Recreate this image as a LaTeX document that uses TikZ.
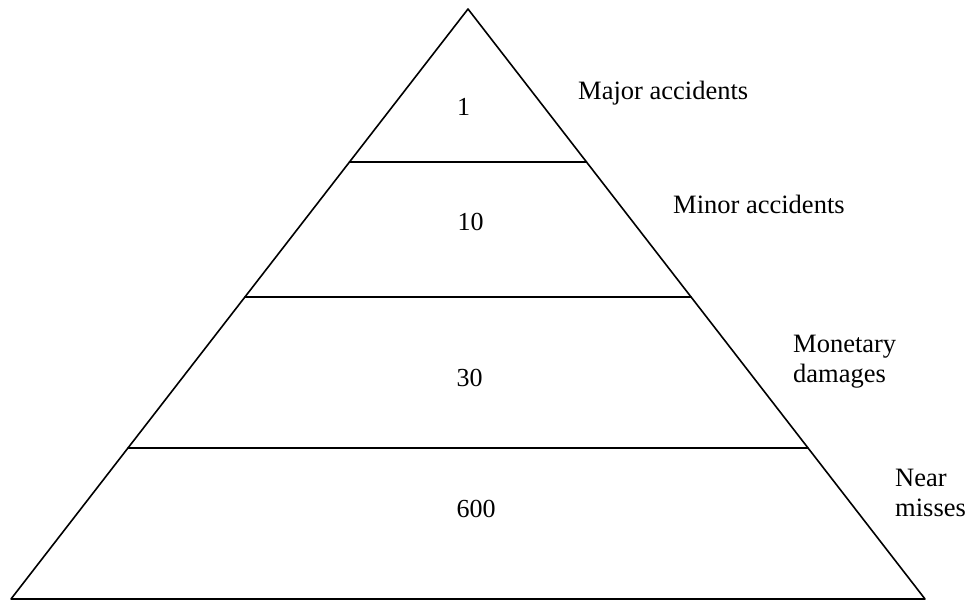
\documentclass[tikz,border=0pt]{standalone}
\usepackage{fontspec}
\setmainfont{Liberation Serif}
\usetikzlibrary{calc}

\begin{document}
\begin{tikzpicture}[x=1pt,y=-1pt,line cap=round,line join=round,
  level/.style={font=\fontsize{26}{30.5}\selectfont,inner sep=0pt,anchor=base},
  tag/.style={font=\fontsize{26.5}{30.5}\selectfont,inner sep=0pt,align=left,anchor=north west}]
\useasboundingbox (0,0) rectangle (969,600);
\coordinate (apex) at (468,9);
\coordinate (bl) at (11,599);
\coordinate (br) at (925,599);
\draw[line width=1.6pt] (apex) -- (br) -- (bl) -- cycle;
\foreach \f/\n in {0.2593/one,0.488/two,0.744/three}
  {\draw[line width=1.6pt] ($(apex)!\f!(bl)$) coordinate (\n l) -- ($(apex)!\f!(br)$) coordinate (\n r);}
% counts
\node[level] (major) at (463.5,115) {1};
\node[level] (minor) at (470.5,230) {10};
\node[level] (money) at (469.5,386) {30};
\node[level] (near) at (476,517) {600};
% labels on the right
\node[tag] (majortag) at (578,80.5) {Major accidents};
\node[tag] (minortag) at (673,194.5) {Minor accidents};
\node[tag] (moneytag) at (793,334.5) {Monetary\\damages};
\node[tag] (neartag) at (895,468.5) {Near\\misses};
\end{tikzpicture}
\end{document}
